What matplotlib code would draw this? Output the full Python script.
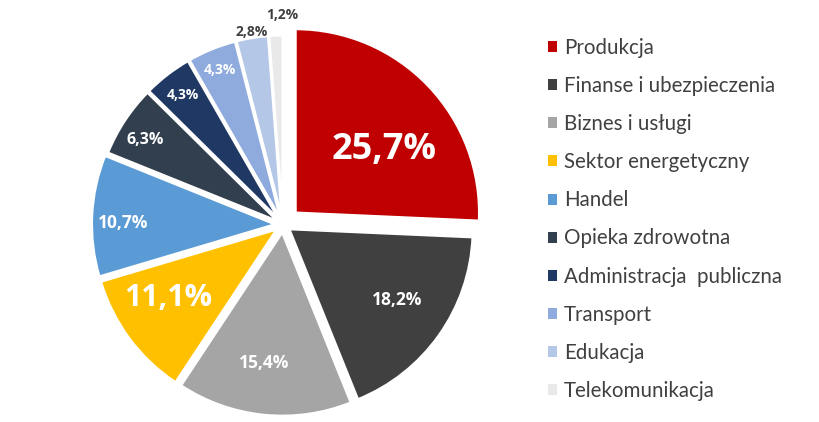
import numpy as np
import matplotlib.pyplot as plt

sectors = ['Produkcja', 'Finanse i ubezpieczenia', 'Biznes i usługi', 'Sektor energetyczny',
           'Handel', 'Opieka zdrowotna', 'Administracja  publiczna', 'Transport',
           'Edukacja', 'Telekomunikacja']
shares = [25.7, 18.2, 15.4, 11.1, 10.7, 6.3, 4.3, 4.3, 2.8, 1.2]
labels = ['25,7%', '18,2%', '15,4%', '11,1%', '10,7%', '6,3%', '4,3%', '4,3%', '2,8%', '1,2%']

colors = ['#C00000', '#404040', '#A5A5A5', '#FFC000', '#5B9BD5',
          '#323F4F', '#203864', '#8FAADC', '#B4C7E7', '#E9E9E9']
explode = [0.093, 0.04, 0.04, 0.04, 0.04, 0.03, 0.03, 0.03, 0.03, 0.03]

# label styling: radial position, angle tweak, size, colour
lab_r = [0.59, 0.70, 0.72, 0.70, 0.83, 0.85, 0.86, 0.875, 1.03, 1.11]
lab_dang = [-8.5, 2, -2, -4, 2.3, 2, 0, 0, 0, -2]
lab_size = [26, 12.5, 12.5, 22, 12.5, 11.5, 10, 10, 10, 10]
lab_col = ['white'] * 8 + ['#404040', '#404040']

W, H = 820, 422
fig = plt.figure(figsize=(W / 100, H / 100), dpi=100)
R = 184          # pie radius in px
cx, cy = 283, 197.3
lim = 1.25
side = 2 * lim * R
ax = fig.add_axes([(cx - side / 2) / W, (cy - side / 2) / H, side / W, side / H])

wedges, _ = ax.pie(shares, colors=colors, explode=explode, startangle=90,
                   counterclock=False,
                   wedgeprops=dict(edgecolor='white', linewidth=2))

for w, lab, r, da, fs, c, ex in zip(wedges, labels, lab_r, lab_dang, lab_size, lab_col, explode):
    mid = np.deg2rad((w.theta1 + w.theta2) / 2)
    ox, oy = ex * np.cos(mid), ex * np.sin(mid)
    ang = mid + np.deg2rad(da)
    ax.text(ox + r * np.cos(ang), oy + r * np.sin(ang), lab, ha='center', va='center',
            fontsize=fs, fontweight='bold', color=c, family='Open Sans')

ax.set_xlim(-lim, lim)
ax.set_ylim(-lim, lim)

leg = fig.legend(wedges, sectors, loc='upper left',
                 bbox_to_anchor=(548 / W, 1 - 38 / H), frameon=False,
                 prop={'family': 'Lato', 'size': 14.8},
                 handlelength=0.45, handleheight=0.45, handletextpad=0.34,
                 labelspacing=0.88, borderaxespad=0, borderpad=0)
for t in leg.get_texts():
    t.set_color('#404040')
for h in leg.legend_handles:
    h.set_linewidth(0)

fig.savefig('out.png', dpi=100)
